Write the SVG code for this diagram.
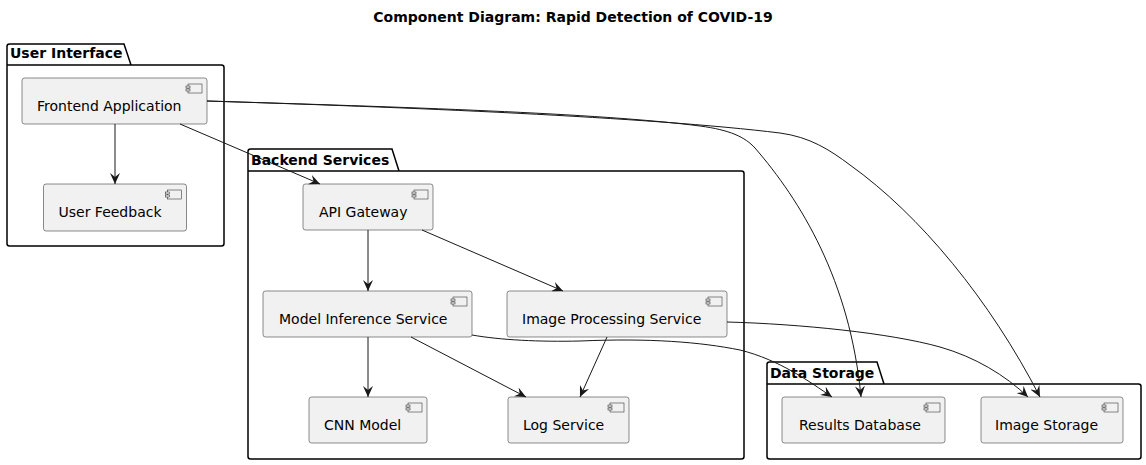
<svg xmlns="http://www.w3.org/2000/svg" width="1146" height="465" viewBox="0 0 1146 465">
<style>
text{font-family:"DejaVu Sans","Liberation Sans",sans-serif;font-size:14px;fill:#000}
.title{font-weight:bold;text-anchor:middle}
.pkg text{font-weight:bold}
.pkg path{fill:none;stroke:#000;stroke-width:1.5}
.node rect.box{fill:#F1F1F1;stroke:#181818;stroke-width:0.5}
.ic rect{fill:#F1F1F1;stroke:#181818;stroke-width:0.5}
.conn path{fill:none;stroke:#181818;stroke-width:1}
</style>
<defs>
<marker id="ah" viewBox="0 0 12 10" refX="11" refY="5" markerWidth="12" markerHeight="10" markerUnits="userSpaceOnUse" orient="auto">
<path d="M0,0 L11,5 L0,10 L4,5 Z" fill="#181818"/>
</marker>
<g id="icon" class="ic">
<rect x="-19" y="6" width="14" height="9"/>
<rect x="-21" y="8" width="4" height="2"/>
<rect x="-21" y="11" width="4" height="2"/>
</g>
</defs>
<rect width="1146" height="465" fill="#fff"/>
<text class="title" x="573" y="22">Component Diagram: Rapid Detection of COVID-19</text>

<g id="pkg-user-interface" class="pkg">
<path d="M7,65 V46.5 Q7,44 9.5,44 H124 L131,65 M7,65 H221.5 Q224,65 224,67.5 V243.5 Q224,246 221.5,246 H9.5 Q7,246 7,243.5 Z"/>
<text x="10" y="58">User Interface</text>
</g>
<g id="pkg-backend-services" class="pkg">
<path d="M248,171 V151.5 Q248,149 250.5,149 H392 L399,171 M248,171 H741.5 Q744,171 744,173.5 V456.5 Q744,459 741.5,459 H250.5 Q248,459 248,456.5 Z"/>
<text x="251" y="165">Backend Services</text>
</g>
<g id="pkg-data-storage" class="pkg">
<path d="M767,384 V364.5 Q767,362 769.5,362 H877 L884,384 M767,384 H1138.5 Q1141,384 1141,386.5 V456.5 Q1141,459 1138.5,459 H769.5 Q767,459 767,456.5 Z"/>
<text x="770" y="378">Data Storage</text>
</g>

<g id="frontend-application" class="node">
<rect class="box" x="22" y="78" width="185" height="46" rx="2.5"/>
<use href="#icon" x="207" y="78"/>
<text x="37" y="111">Frontend Application</text>
</g>
<g id="user-feedback" class="node">
<rect class="box" x="43.5" y="184" width="143" height="47" rx="2.5"/>
<use href="#icon" x="186.5" y="184"/>
<text x="58.5" y="217">User Feedback</text>
</g>
<g id="api-gateway" class="node">
<rect class="box" x="303" y="184" width="130" height="46" rx="2.5"/>
<use href="#icon" x="433" y="184"/>
<text x="319" y="217">API Gateway</text>
</g>
<g id="model-inference-service" class="node">
<rect class="box" x="263" y="291" width="209" height="46" rx="2.5"/>
<use href="#icon" x="472" y="291"/>
<text x="279" y="324">Model Inference Service</text>
</g>
<g id="image-processing-service" class="node">
<rect class="box" x="507" y="291" width="220" height="46" rx="2.5"/>
<use href="#icon" x="727" y="291"/>
<text x="522" y="324">Image Processing Service</text>
</g>
<g id="cnn-model" class="node">
<rect class="box" x="309" y="397" width="118" height="46" rx="2.5"/>
<use href="#icon" x="427" y="397"/>
<text x="324" y="430">CNN Model</text>
</g>
<g id="log-service" class="node">
<rect class="box" x="508" y="397" width="121" height="46" rx="2.5"/>
<use href="#icon" x="629" y="397"/>
<text x="523" y="430">Log Service</text>
</g>
<g id="results-database" class="node">
<rect class="box" x="782" y="397" width="163" height="46" rx="2.5"/>
<use href="#icon" x="945" y="397"/>
<text x="799" y="430">Results Database</text>
</g>
<g id="image-storage" class="node">
<rect class="box" x="981" y="397" width="142" height="46" rx="2.5"/>
<use href="#icon" x="1123" y="397"/>
<text x="995" y="430">Image Storage</text>
</g>

<g id="connectors" class="conn">
<path marker-end="url(#ah)" d="M115,124 L115,184"/>
<path marker-end="url(#ah)" d="M180,124 L320,184"/>
<path marker-end="url(#ah)" d="M368,230 L368,291"/>
<path marker-end="url(#ah)" d="M422,230 L563,291"/>
<path marker-end="url(#ah)" d="M368,337 L368,397"/>
<path marker-end="url(#ah)" d="M411,337 L526,397"/>
<path marker-end="url(#ah)" d="M607,337 L580,397"/>
<path marker-end="url(#ah)" d="M472,335 C500,340 540,342 580,341 C650,338 700,342 740,350 C780,360 810,382 832,397"/>
<path marker-end="url(#ah)" d="M727,322 C800,324 890,333 940,347 C975,357 1005,375 1028,397"/>
<path marker-end="url(#ah)" d="M207,101 C400,107 600,113 700,126 C730,130 745,137 755,148 C800,200 850,280 861,397"/>
<path marker-end="url(#ah)" d="M207,101 C400,107 650,117 780,133 C810,137 830,150 850,165 C920,215 990,300 1040,397"/>
</g>
</svg>
